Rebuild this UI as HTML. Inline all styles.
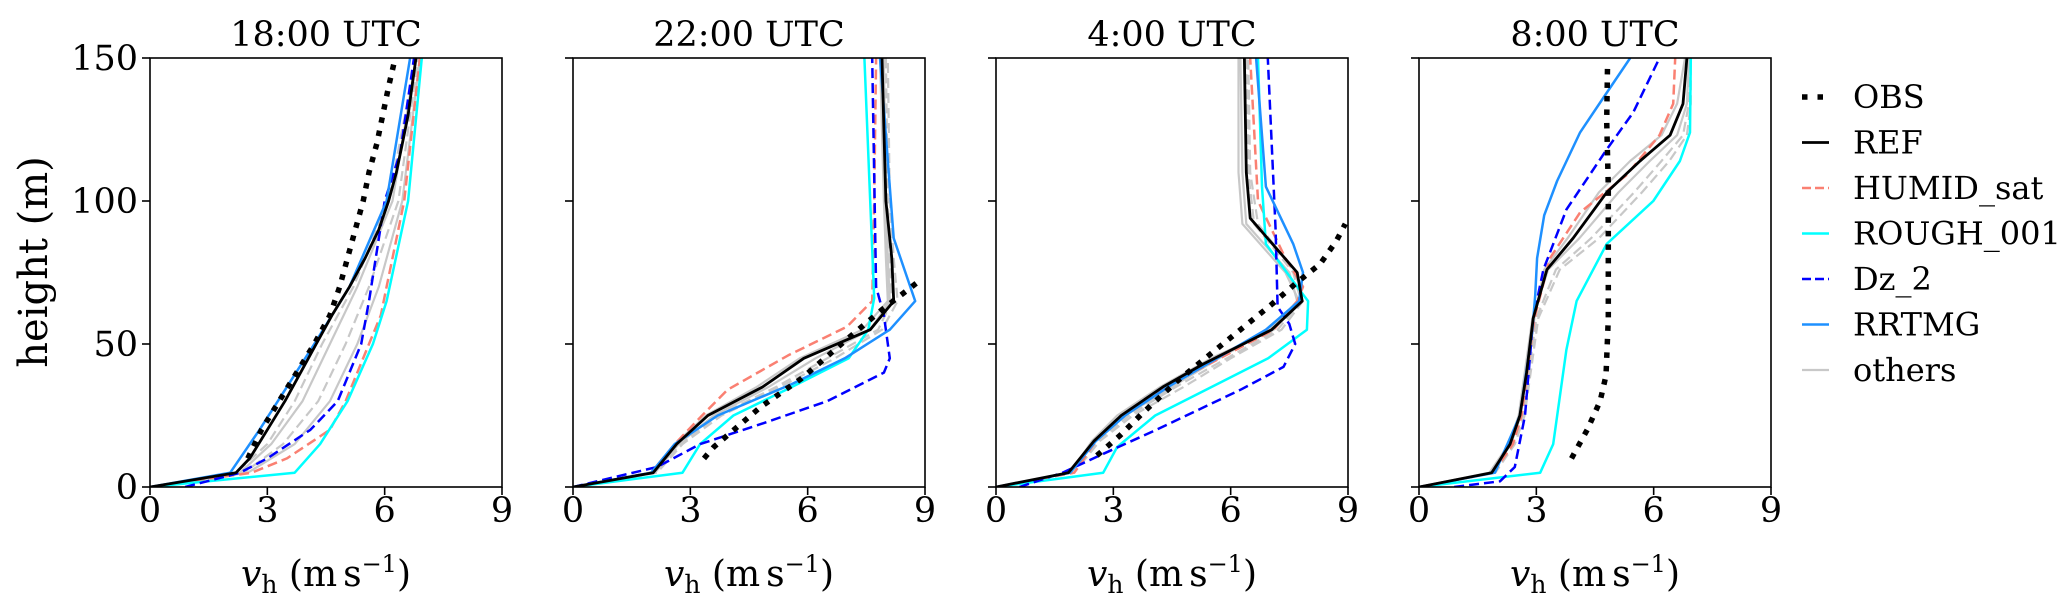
<!DOCTYPE html>
<html><head><meta charset="utf-8"><style>
html,body{margin:0;padding:0;background:#fff;}
svg{display:block;font-family:"DejaVu Serif","Liberation Serif",serif;}
</style></head><body>
<svg id="chart" width="2067" height="608" viewBox="0 0 2067 608" xmlns="http://www.w3.org/2000/svg"></svg>
<script>
const panelTitles = ["18:00 UTC","22:00 UTC","4:00 UTC","8:00 UTC"];
const xTicks = [0,3,6,9];
const yTicks = [0,50,100,150];

// Panel 1 (18:00)
const p1_REF_h=[0,5,10,20,30,40,50,60,70,80,90,100,110,120,130,140,150];
const p1_REF_v=[0,2.2,2.55,3.0,3.45,3.85,4.25,4.65,5.1,5.5,5.85,6.1,6.3,6.45,6.6,6.7,6.8];
const p1_OBS_h=[10,20,30,40,50,60,70,80,90,100,110,120,130,140,150];
const p1_OBS_v=[2.5,2.85,3.3,3.75,4.2,4.6,4.85,5.05,5.25,5.45,5.6,5.8,5.95,6.1,6.27];
const p1_RRTMG_h=[0,5,20,35,50,70,100,150];
const p1_RRTMG_v=[0,2.05,2.8,3.5,4.2,5.1,6.05,6.65];
const p1_DZ_h=[0,5,10,20,30,50,65,100,117,150];
const p1_DZ_v=[0.9,2.3,3.0,4.1,4.8,5.4,5.6,6.0,6.4,6.75];
const p1_HUM_h=[0,5,10,20,30,40,50,60,70,100,150];
const p1_HUM_v=[0,2.6,3.5,4.6,5.0,5.3,5.6,5.9,6.05,6.5,6.9];
const p1_ROUGH_h=[0,5,15,30,50,65,100,150];
const p1_ROUGH_v=[0,3.7,4.35,5.05,5.7,6.05,6.6,6.95];
const p1_OTH_h=[0,5,15,30,50,70,100,150];
const p1_OTH_a=[0,2.3,3.1,3.9,4.6,5.3,6.2,6.8];
const p1_OTH_b=[0,2.4,3.4,4.3,5.0,5.6,6.35,6.85];
const p1_OTH_c=[0,2.5,3.7,4.6,5.3,5.85,6.45,6.9];
const p1_OTH_d=[0,2.2,3.0,3.7,4.4,5.2,6.1,6.8];

// Panel 2 (22:00)
const p2_REF_h=[0,5,15,25,35,45,55,65,80,100,125,150];
const p2_REF_v=[0,2.05,2.65,3.45,4.85,5.9,7.6,8.2,8.15,8.0,7.95,7.9];
const p2_OBS_h=[10,14,28,38,51,62,72];
const p2_OBS_v=[3.35,3.6,4.8,5.85,6.95,7.9,8.85];
const p2_ROUGH_h=[0,5,15,25,35,45,55,66,100,150];
const p2_ROUGH_v=[0,2.8,3.25,4.1,5.6,7.05,7.55,7.7,7.6,7.45];
const p2_RRTMG_h=[0,5,15,25,36,45,55,65,87,150];
const p2_RRTMG_v=[0,2.0,2.6,3.7,5.6,6.95,8.1,8.75,8.2,7.85];
const p2_DZ_h=[0,7,15,22,30,40,45,60,70,150];
const p2_DZ_v=[0,2.15,3.25,4.8,6.5,7.95,8.1,7.95,7.75,7.65];
const p2_HUM_h=[0,5,15,25,34,46,56,65,100,150];
const p2_HUM_v=[0,2.0,2.6,3.3,3.95,5.5,7.0,7.65,7.7,7.75];
const p2_OTH_h=[0,5,15,25,35,45,55,65,80,100,150];
const p2_OTH_a=[0,2.1,2.7,3.6,5.0,6.2,7.6,8.1,8.05,8.0,7.95];
const p2_OTH_b=[0,2.1,2.75,3.7,5.2,6.5,7.8,8.15,8.1,8.05,8.0];
const p2_OTH_c=[0,2.0,2.6,3.4,4.7,5.8,7.4,8.05,8.0,7.95,7.85];
const p2_OTH_d=[0,2.15,2.8,3.8,5.3,6.7,7.9,8.3,8.2,8.1,8.05];

// Panel 3 (4:00)
const p3_REF_h=[0,5,16,25,35,43,55,65,75,94,110,150];
const p3_REF_v=[0,1.85,2.5,3.2,4.27,5.3,7.05,7.83,7.7,6.5,6.4,6.35];
const p3_OBS_h=[11,18,26,37,50,64,71,78,86,92];
const p3_OBS_v=[2.58,3.17,3.76,4.63,5.8,7.06,7.65,8.29,8.7,8.93];
const p3_ROUGH_h=[0,5,14,25,45,55,65,70,85,105,150];
const p3_ROUGH_v=[0,2.74,3.1,4.07,6.96,7.95,7.98,7.7,6.9,6.8,6.7];
const p3_DZ_h=[0,5,11,20,34,42,50,57,63,90,150];
const p3_DZ_v=[0.6,1.7,2.65,4.1,6.25,7.35,7.65,7.5,7.2,7.15,6.95];
const p3_HUM_h=[0,5,16,25,35,43,55,65,70,80,100,150];
const p3_HUM_v=[0,2.0,2.55,3.2,4.3,5.45,7.1,7.7,7.85,7.4,6.7,6.5];
const p3_RRTMG_h=[0,5,16,25,35,43,55,65,75,85,105,150];
const p3_RRTMG_v=[0,1.9,2.55,3.3,4.4,5.4,6.9,7.75,7.85,7.6,6.9,6.65];
const p3_OTH_h=[0,5,16,25,35,45,55,65,75,92,110,150];
const p3_OTH_a=[0,1.9,2.5,3.3,4.5,5.7,7.0,7.7,7.5,6.4,6.3,6.25];
const p3_OTH_b=[0,2.0,2.6,3.4,4.6,5.9,7.2,7.8,7.6,6.6,6.45,6.4];
const p3_OTH_c=[0,1.9,2.45,3.1,4.2,5.5,7.1,7.75,7.4,6.3,6.2,6.2];
const p3_OTH_d=[0,2.0,2.65,3.5,4.8,6.0,7.3,7.85,7.65,6.7,6.5,6.45];

// Panel 4 (8:00)
const p4_REF_h=[0,5,15,25,40,59,76,87,103,114,123,134,150];
const p4_REF_v=[0,1.86,2.33,2.58,2.75,2.92,3.27,3.94,4.8,5.65,6.42,6.75,6.85];
const p4_OBS_h=[10,20,30,39,59,82,105,128,147];
const p4_OBS_v=[3.9,4.3,4.63,4.78,4.84,4.84,4.84,4.8,4.82];
const p4_ROUGH_h=[0,5,15,48,65,85,100,114,124,150];
const p4_ROUGH_v=[0,3.1,3.43,3.77,4.03,4.8,5.99,6.67,6.93,6.95];
const p4_RRTMG_h=[0,5,25,55,67,80,95,107,124,136,150];
const p4_RRTMG_v=[0,1.94,2.58,2.9,2.97,3.02,3.2,3.53,4.12,4.71,5.4];
const p4_DZ_h=[0,2,7,25,59,76,97,118,131,150];
const p4_DZ_v=[0.9,2.07,2.45,2.71,2.92,3.18,3.77,4.8,5.48,6.15];
const p4_HUM_h=[0,5,15,25,59,80,96,109,123,134,150];
const p4_HUM_v=[0,1.9,2.4,2.62,2.95,3.35,4.12,5.3,6.15,6.5,6.55];
const p4_OTH_h=[0,5,15,25,59,76,87,103,114,123,134,150];
const p4_OTH_a=[0,1.8,2.3,2.55,2.9,3.3,4.1,5.1,5.9,6.6,6.85,6.9];
const p4_OTH_b=[0,1.9,2.4,2.65,3.0,3.5,4.4,5.5,6.2,6.75,6.9,6.95];
const p4_OTH_c=[0,1.85,2.35,2.6,2.95,3.2,3.8,4.6,5.4,6.2,6.6,6.8];
const p4_OTH_d=[0,1.95,2.45,2.7,3.05,3.6,4.6,5.7,6.4,6.85,6.95,6.95];

const panels=[
 {REF:[p1_REF_h,p1_REF_v],OBS:[p1_OBS_h,p1_OBS_v],HUM:[p1_HUM_h,p1_HUM_v],ROUGH:[p1_ROUGH_h,p1_ROUGH_v],DZ:[p1_DZ_h,p1_DZ_v],RRTMG:[p1_RRTMG_h,p1_RRTMG_v],OTH:[p1_OTH_h,[p1_OTH_a,p1_OTH_b,p1_OTH_c,p1_OTH_d]]},
 {REF:[p2_REF_h,p2_REF_v],OBS:[p2_OBS_h,p2_OBS_v],HUM:[p2_HUM_h,p2_HUM_v],ROUGH:[p2_ROUGH_h,p2_ROUGH_v],DZ:[p2_DZ_h,p2_DZ_v],RRTMG:[p2_RRTMG_h,p2_RRTMG_v],OTH:[p2_OTH_h,[p2_OTH_a,p2_OTH_b,p2_OTH_c,p2_OTH_d]]},
 {REF:[p3_REF_h,p3_REF_v],OBS:[p3_OBS_h,p3_OBS_v],HUM:[p3_HUM_h,p3_HUM_v],ROUGH:[p3_ROUGH_h,p3_ROUGH_v],DZ:[p3_DZ_h,p3_DZ_v],RRTMG:[p3_RRTMG_h,p3_RRTMG_v],OTH:[p3_OTH_h,[p3_OTH_a,p3_OTH_b,p3_OTH_c,p3_OTH_d]]},
 {REF:[p4_REF_h,p4_REF_v],OBS:[p4_OBS_h,p4_OBS_v],HUM:[p4_HUM_h,p4_HUM_v],ROUGH:[p4_ROUGH_h,p4_ROUGH_v],DZ:[p4_DZ_h,p4_DZ_v],RRTMG:[p4_RRTMG_h,p4_RRTMG_v],OTH:[p4_OTH_h,[p4_OTH_a,p4_OTH_b,p4_OTH_c,p4_OTH_d]]}
];

const NS="http://www.w3.org/2000/svg";
const svg=document.getElementById('chart');
function mk(tag,attrs,parent){const e=document.createElementNS(NS,tag);for(const k in attrs)e.setAttribute(k,attrs[k]);(parent||svg).appendChild(e);return e;}
const PW=352, TOP=58, BOT=487, LEFTS=[150,573,996,1419];
function xs(i,v){return LEFTS[i]+v/9*PW;}
function ys(h){return BOT-h/150*(BOT-TOP);}
const styles={
 OTH:{stroke:"#c8c8c8",w:2.2,dash:null},
 HUM:{stroke:"#fa8072",w:2.5,dash:"10 5"},
 ROUGH:{stroke:"#00ffff",w:2.5,dash:null},
 DZ:{stroke:"#0000ff",w:2.5,dash:"10 5"},
 RRTMG:{stroke:"#1e90ff",w:2.5,dash:null},
 REF:{stroke:"#000000",w:2.8,dash:null},
 OBS:{stroke:"#000000",w:5.5,dash:"5.5 8"}
};
function line(i,g,hs,vs,st,name){
 const pts=hs.map((h,k)=>xs(i,vs[k]).toFixed(1)+","+ys(h).toFixed(1)).join(" ");
 const p=mk('polyline',{points:pts,fill:"none",stroke:st.stroke,"stroke-width":st.w,"stroke-linejoin":"round"},g);
 if(st.dash)p.setAttribute('stroke-dasharray',st.dash);
 
 
 return p;
}
panels.forEach((P,i)=>{
 const g=mk('g',{});
 
 
 const clipId='clip'+i;
 const cp=mk('clipPath',{id:clipId},g);mk('rect',{x:LEFTS[i],y:TOP,width:PW,height:BOT-TOP},cp);
 const lg=mk('g',{'clip-path':'url(#'+clipId+')'},g);
 P.OTH[1].forEach((vs,k)=>{const st=Object.assign({},styles.OTH);if(k%2==1)st.dash="10 5";line(i,lg,P.OTH[0],vs,st,'others-line');});
 ['HUM','ROUGH','DZ','RRTMG','REF'].forEach(s=>line(i,lg,P[s][0],P[s][1],styles[s],s.toLowerCase()+'-line'));
 line(i,g,P.OBS[0],P.OBS[1],styles.OBS,'obs-line');
 const fr=mk('rect',{x:LEFTS[i],y:TOP,width:PW,height:BOT-TOP,fill:"none",stroke:"#000","stroke-width":1.6},g);
 
 
 xTicks.forEach(t=>{
  const x=xs(i,t);
  mk('line',{x1:x,y1:BOT,x2:x,y2:BOT+8,stroke:"#000","stroke-width":1.6},g);
  const tx=mk('text',{x:x,y:522,"font-size":35,"text-anchor":"middle"},g);tx.textContent=t;
  
  
 });
 yTicks.forEach(t=>{
  const y=ys(t);
  mk('line',{x1:LEFTS[i]-8,y1:y,x2:LEFTS[i],y2:y,stroke:"#000","stroke-width":1.6},g);
  if(i==0){const ty=mk('text',{x:LEFTS[i]-12,y:y+12,"font-size":35,"text-anchor":"end"},g);ty.textContent=t;
   
   }
 });
 const tt=mk('text',{x:LEFTS[i]+PW/2,y:46,"font-size":35,"text-anchor":"middle"},g);tt.textContent=panelTitles[i];
 
 
 const xl=mk('text',{x:LEFTS[i]+PW/2,y:586,"font-size":36,"text-anchor":"middle"},g);
 xl.innerHTML='<tspan font-style="italic">v</tspan><tspan font-size="25" dy="7">h</tspan><tspan dy="-7"> (m</tspan><tspan dx="6">s</tspan><tspan font-size="24" dy="-14">−1</tspan><tspan dy="14">)</tspan>';
 
 
});
const yl=mk('text',{x:0,y:0,"font-size":40,"text-anchor":"middle",transform:"translate(47,262) rotate(-90)"});
yl.textContent="height (m)";



const legendNames=["OBS","REF","HUMID_sat","ROUGH_001","Dz_2","RRTMG","others"];
const legendKeys=["OBS","REF","HUM","ROUGH","DZ","RRTMG","OTH"];
const lgG=mk('g',{});


legendNames.forEach((n,k)=>{
 const y=97+k*45.5;
 const st=styles[legendKeys[k]];
 const e=mk('g',{},lgG);
 
 
 const l=mk('line',{x1:1802,y1:y,x2:1829,y2:y,stroke:st.stroke,"stroke-width":st.w},e);
 if(k==0)l.setAttribute('stroke-dasharray','5.5 10');
 else if(st.dash)l.setAttribute('stroke-dasharray','9 4');
 const t=mk('text',{x:1853,y:y+11,"font-size":32},e);t.textContent=n;
});
</script>
</body></html>
